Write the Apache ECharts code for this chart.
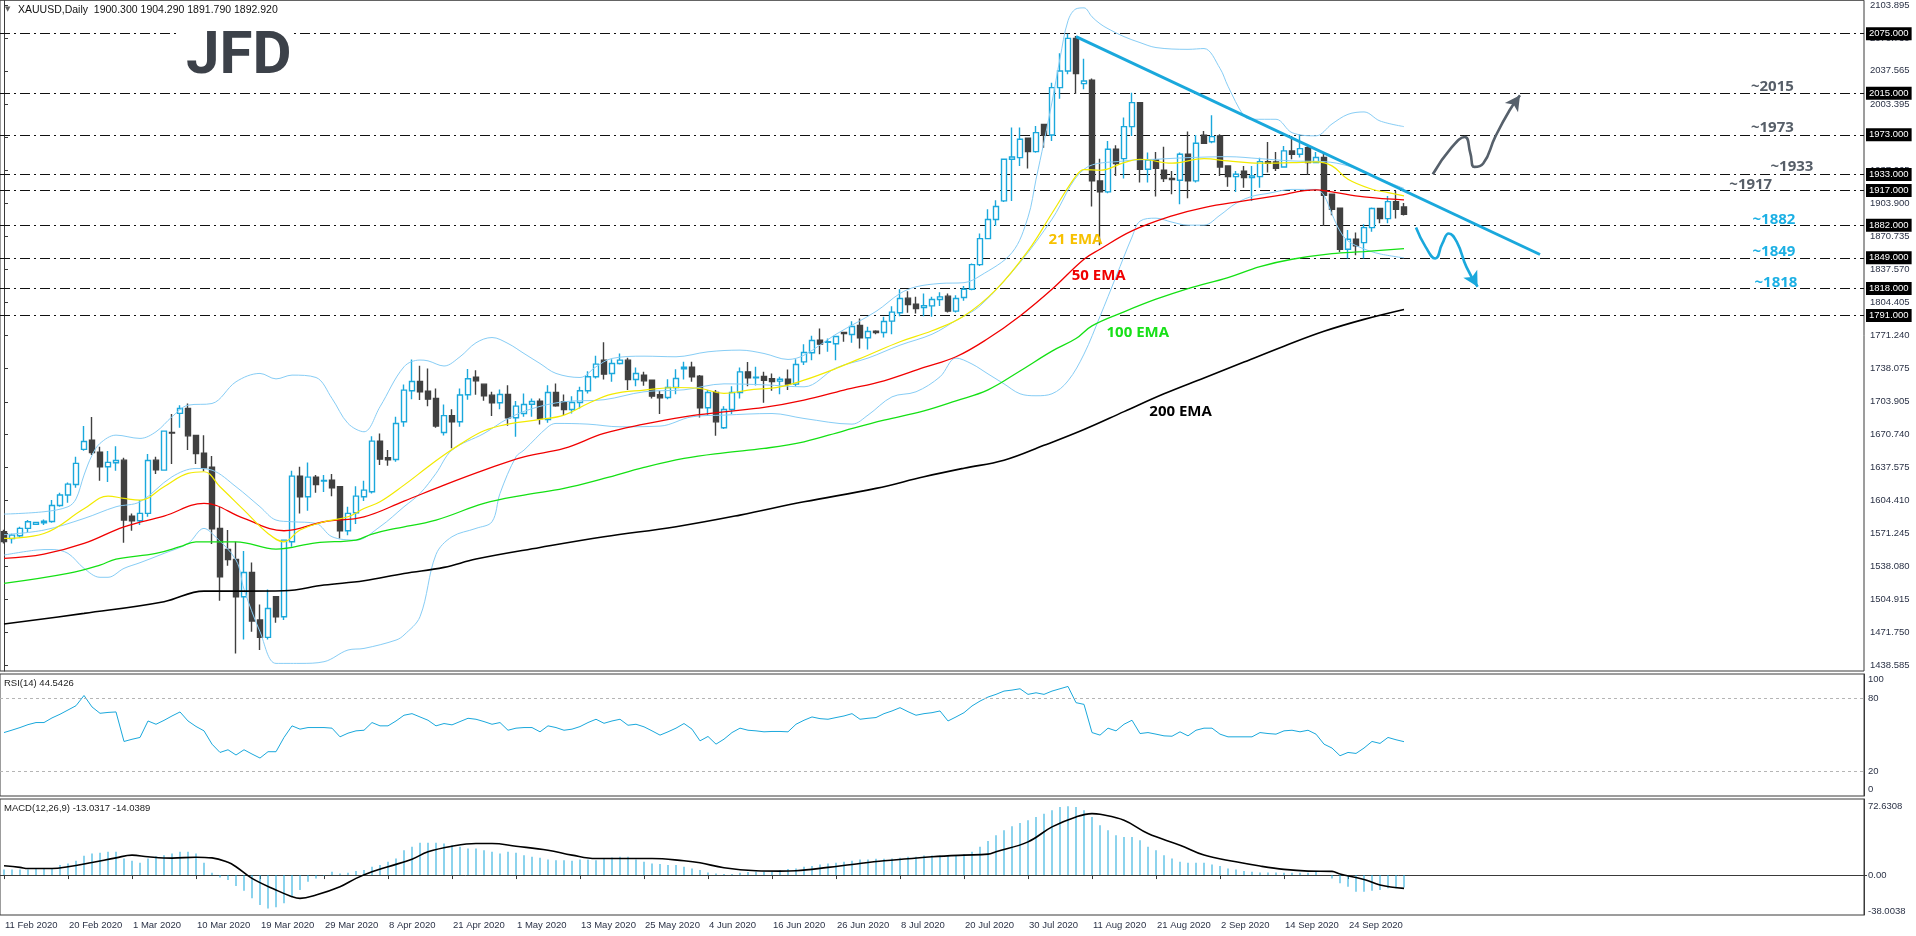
<!DOCTYPE html>
<html><head><meta charset="utf-8">
<script src="https://cdn.jsdelivr.net/npm/echarts@6/dist/echarts.min.js"></script>
<style>html,body{margin:0;padding:0;background:#fff;overflow:hidden}#c{width:1916px;height:936px}</style>
</head><body><div id="c"></div>
<script>
// ---------------- DATA ----------------
const DATE_TICKS=['11 Feb 2020','20 Feb 2020','1 Mar 2020','10 Mar 2020','19 Mar 2020','29 Mar 2020','8 Apr 2020','21 Apr 2020','1 May 2020','13 May 2020','25 May 2020','4 Jun 2020','16 Jun 2020','26 Jun 2020','8 Jul 2020','20 Jul 2020','30 Jul 2020','11 Aug 2020','21 Aug 2020','2 Sep 2020','14 Sep 2020','24 Sep 2020'];
const PRICE_TICKS=[2103.895,2070.730,2037.565,2003.395,1970.230,1937.065,1903.900,1870.735,1837.570,1804.405,1771.240,1738.075,1703.905,1670.740,1637.575,1604.410,1571.245,1538.080,1504.915,1471.750,1438.585];
const LEVELS=[2075,2015,1973,1933,1917,1882,1849,1818,1791];
const LAST_PRICE=1892.92;
const OPEN=[1573,1566,1568.9,1576.3,1580.3,1582,1583.3,1599.4,1609.9,1620.6,1655.9,1665.3,1653.2,1638.4,1642.4,1645.1,1588.7,1584,1591.4,1645.1,1635,1673,1692.2,1697.2,1670,1652.2,1638,1576.3,1555.1,1545,1507.4,1531.9,1483.9,1466.4,1507.4,1487.3,1562.8,1629,1608.2,1628,1623.9,1625,1618.2,1573.9,1592,1608.2,1613.2,1664.3,1647.5,1645.8,1683.8,1715,1724.4,1714.7,1707.3,1673,1690,1683.8,1711,1728.6,1721.7,1710.6,1702.9,1711.3,1687.8,1692.1,1701.5,1704.6,1686.1,1713.3,1703.9,1696.2,1703.2,1715,1729.1,1745.9,1732.5,1742.5,1745.9,1726.4,1730.8,1725.7,1711,1708.3,1718.3,1737.2,1738.8,1729.8,1697.9,1713.3,1677.7,1696.2,1713.3,1734.1,1728.1,1729.4,1727.1,1724.7,1726.7,1721.7,1744.2,1753.3,1766,1763.8,1762.4,1773.8,1771.8,1780.8,1768.4,1775.1,1773.8,1785.2,1793.6,1808.4,1802.3,1798.9,1800.6,1807,1810.4,1795.3,1809,1817.4,1842.2,1868.4,1887.6,1906.4,1948.4,1950,1969.5,1956.1,1983.6,1972.9,2020.6,2037.4,2070.3,2024.6,2028,1926.6,1915.5,1958.5,1949,1981.3,2005.5,1938.3,1947.7,1937.3,1929,1927.2,1953.4,1926.6,1972.6,1966.1,1971.9,1941.7,1930.9,1936.3,1930,1930.9,1946,1945.7,1940.6,1956.8,1953.4,1960.1,1945,1950.1,1913.1,1899,1857.7,1867.8,1864.4,1879.5,1898.7,1888.6,1905.7,1900.3];
const HIGH=[1575,1571,1578,1584.7,1583,1585.3,1604.8,1612.2,1622.6,1648.5,1679.4,1688.5,1658.6,1654.2,1659.2,1647.5,1591.4,1604.8,1651.2,1648.5,1674.5,1691.5,1700.5,1702.2,1670.5,1670.3,1649.2,1598,1574.6,1562.8,1553.4,1542,1499.7,1514.8,1508,1565.2,1634.4,1638.4,1642.8,1630,1630,1631,1618.9,1598,1618.9,1624.3,1669.3,1672,1655.2,1688.8,1721.4,1746.6,1740.2,1737.5,1717.3,1701.2,1696.4,1717.3,1737,1735.8,1721.9,1714,1716.3,1720.7,1704.6,1712.3,1707.3,1707.3,1720.7,1722.4,1711.3,1709.6,1719,1734.8,1750.3,1764,1746.9,1752.6,1748.2,1738.5,1734.1,1726,1715,1726.7,1736.8,1744.2,1744.2,1730.8,1715.7,1715.7,1699.5,1719.7,1738.5,1743.9,1739.2,1734.1,1732.5,1729.1,1736.5,1746.9,1762,1770.4,1777.8,1767.7,1770.4,1774.4,1785.2,1787.9,1779.5,1776.1,1789.6,1800.3,1817.4,1815.4,1809.7,1813,1809.7,1814.4,1813,1811.4,1820.7,1843.3,1873.5,1898,1907.1,1949,1980.3,1980.3,1969.5,1982,1983.6,2025.6,2055.2,2075,2072.6,2049.8,2029.7,1949,1966.9,1962.5,1990.4,2015.5,2005.5,1955.1,1955.8,1961.1,1936.6,1955.1,1976.3,1972.9,1976.9,1992.7,1973.6,1941.7,1936.6,1941.7,1941.7,1950,1965.8,1955.8,1961.8,1971.9,1973.6,1962.5,1955.8,1955.1,1913.1,1899,1877.2,1874.5,1882.9,1899.7,1898.7,1911.4,1916.5,1904.29];
const LOW=[1561,1561,1567,1572.2,1579.6,1579.6,1582,1598,1602.1,1617.2,1654.5,1650.2,1624.3,1623,1634.4,1561.8,1573.9,1579.6,1588,1631,1634.4,1641.1,1677.7,1655.2,1641.1,1634,1560.5,1503.4,1538.6,1450.3,1464.4,1472.1,1453.7,1464.4,1481.2,1483.9,1557.8,1591.4,1594.1,1612.2,1612.9,1608.8,1566.2,1569.5,1580.6,1603.8,1611.5,1640.1,1639.4,1643.4,1678.7,1706.6,1705.6,1699.5,1677.7,1670,1657,1678.7,1706,1711,1704.9,1689.5,1696.5,1679.7,1668.6,1688.8,1688.8,1681,1682.7,1699,1690.5,1692.1,1697.2,1712.3,1727.4,1726.4,1724.1,1741.5,1715.7,1719.7,1720,1707.3,1691.5,1706.6,1711.6,1726.4,1724.1,1688.1,1689.5,1669.6,1676.4,1691.5,1707.3,1719.7,1720.4,1702.9,1715,1711.6,1715.7,1719.7,1740.9,1745.9,1751.9,1754.3,1745.9,1764.4,1763.4,1757.6,1756.6,1772.1,1768.7,1772.1,1790.2,1793.6,1792.9,1790.2,1789.6,1800.6,1793.9,1793.9,1805.7,1816.4,1840.9,1867.8,1881.2,1905.4,1906.4,1941.7,1939,1955,1960.1,1966.9,2009.5,2034,2014.5,2018.9,1900.7,1861.7,1914.1,1931.6,1928.9,1971.9,1924.9,1924.9,1910.8,1925.5,1913.1,1903,1909.1,1924.9,1964.5,1964.5,1931.6,1920.8,1915.5,1919.8,1906.4,1919.8,1935,1936.6,1940,1948.4,1950.1,1932.6,1944.4,1881.2,1892,1855,1848.3,1851.7,1848.3,1875.2,1883.9,1883.9,1888.6,1891.79];
const CLOSE=[1563,1569.5,1576.3,1583,1582.3,1583.5,1599.4,1609.9,1620.9,1641.8,1663.9,1652.8,1638.4,1642.8,1644.8,1584.7,1584,1591.4,1644.8,1635.4,1674.3,1672.4,1697.2,1669.6,1651.8,1637.4,1575.9,1527.6,1545,1507.4,1531.9,1482.9,1466.4,1495.6,1487.3,1564.5,1629,1608.2,1628,1620.6,1624.6,1617.2,1573.9,1591.4,1608.8,1614.9,1664.3,1646.1,1645.5,1682,1715.7,1724.4,1714,1706.6,1679.4,1690,1683.8,1710.8,1727.2,1725,1710,1702.9,1711.3,1687.8,1699.5,1701.2,1704.2,1687.1,1713.3,1699.9,1696.2,1703.2,1715,1729.1,1741.9,1731.8,1742.5,1745.9,1726.4,1732.5,1725,1709.6,1707.9,1718.3,1727.4,1738.8,1729.1,1697.9,1713.3,1683.7,1696.2,1713.3,1734.1,1728.1,1728.6,1725.7,1724.4,1726.7,1721.7,1741.5,1753.6,1765.7,1762,1764.4,1769.7,1772.8,1779.8,1768.4,1774.8,1773.8,1784.9,1794.3,1808,1802,1797.9,1800.9,1807,1809.7,1795.3,1808,1817.4,1842.2,1868.4,1887.6,1900.7,1948.4,1950.7,1968.5,1956.1,1975.2,1972.9,2020.6,2037.4,2070.3,2034.7,2027.3,1926.6,1915.5,1958.5,1944,1981.3,2005.5,1938.3,1947.7,1939.3,1928.9,1927.9,1953.4,1926.6,1964.5,1964.5,1971.2,1940.6,1930.9,1933.3,1929.9,1931.6,1946,1944.4,1939.3,1956.8,1953.4,1959.1,1945,1950.1,1912.1,1898,1857.7,1867.8,1861.1,1879.5,1898.7,1888.6,1905.7,1898,1892.92];
// indicator readings: [bar index, value]
const EMA21=[[0,1566.2],[5,1571.2],[10,1596],[13,1608.9],[15,1606.5],[17,1604.8],[20,1618.3],[23,1631.7],[25,1633.4],[27,1618.3],[30,1594.7],[33,1571.2],[35,1562.8],[37,1574.6],[40,1583],[43,1588],[45,1596.4],[47,1603.1],[50,1619.9],[53,1638.4],[55,1650.2],[57,1661],[60,1674.7],[63,1681.4],[67,1686.1],[70,1690.5],[73,1702.2],[76,1711.6],[80,1715.7],[84,1718.3],[87,1717.3],[90,1712.3],[93,1715.7],[97,1719],[100,1725.7],[104,1737.5],[108,1750.9],[112,1764.4],[116,1775.5],[120,1790.5],[124,1817],[128,1856],[131,1894],[134,1931.6],[135,1938],[137,1937.3],[140,1945],[142,1948.4],[146,1944.4],[150,1949],[153,1946.7],[157,1944.4],[161,1945],[164,1945.7],[166,1941.7],[168,1928.2],[171,1918.2],[173,1914.8],[175,1911.4]];
const EMA50=[[0,1546],[5,1550.4],[10,1561.1],[15,1577.9],[20,1588.7],[25,1601.5],[30,1586.3],[35,1573.9],[40,1583],[45,1588],[50,1603.8],[55,1619.9],[60,1635],[65,1648.5],[70,1656.9],[75,1672],[80,1681.4],[85,1688.8],[90,1693.8],[95,1698.2],[100,1705.6],[105,1715.7],[110,1725.1],[115,1738.5],[119,1749.3],[123,1767.7],[127,1790.5],[131,1817.4],[135,1847.6],[137,1857.7],[141,1876.2],[146,1891.3],[150,1899.7],[155,1906.4],[159,1911.4],[164,1917.5],[166,1915.5],[170,1910.4],[175,1907.4]];
const EMA100=[[0,1520.8],[8,1530.9],[12,1539.3],[14,1545.4],[19,1551.1],[22,1557.8],[24,1562.8],[29,1562.8],[34,1555.4],[39,1561.8],[44,1564.5],[46,1570.6],[49,1576.3],[54,1584.7],[60,1601.4],[65,1609.9],[70,1616.6],[75,1626.6],[80,1637.7],[85,1646.8],[90,1652.5],[95,1656.9],[100,1663.6],[105,1674.7],[110,1685.4],[115,1694.8],[119,1704.9],[123,1716],[127,1735],[131,1755],[134,1767.7],[136,1780.5],[140,1794.6],[144,1807.3],[148,1818.1],[153,1829.2],[157,1840.2],[161,1847.6],[166,1853.3],[170,1855.3],[175,1858.4]];
const EMA200=[[0,1479.9],[10,1490.6],[20,1502.4],[25,1513.1],[30,1513.1],[35,1513.4],[40,1519.2],[45,1523.5],[50,1530.9],[55,1537],[59,1545.4],[67,1557.1],[75,1567.9],[84,1578],[92,1589.7],[100,1603.1],[109,1616.6],[115,1628.3],[120,1637],[125,1645],[130,1660],[135,1676],[140,1694],[145,1712],[150,1728],[155,1744],[160,1760],[165,1775],[170,1787],[175,1797]];
const BB_UP=[[0,1590.7],[5,1593.1],[8,1598.1],[9,1606],[10,1630],[11,1650],[12,1662],[14,1670.3],[17,1667],[19,1673.7],[21,1688.8],[23,1700.5],[26,1702.2],[29,1724.1],[32,1732.5],[34,1727],[36,1730.8],[39,1728.4],[41,1707.3],[43,1682.1],[45,1673.7],[47,1698.9],[50,1739.2],[52,1746],[53,1745.2],[55,1740],[57,1749.3],[59,1763.4],[61,1768.7],[63,1762.7],[65,1752.6],[67,1742.5],[69,1732.5],[72,1728.4],[74,1739.2],[76,1747.6],[80,1749.9],[84,1749.3],[88,1754.3],[92,1756],[95,1752.6],[98,1746.6],[100,1750.9],[104,1772],[109,1795],[112,1813.1],[114,1819.8],[117,1823.2],[120,1824],[122,1830.8],[126,1854.3],[128,1890],[129,1928],[130,1966],[131,2006],[132,2050],[133,2088],[134,2100],[135,2101],[136,2092],[137,2085],[138,2080],[140,2072],[142,2066],[144,2061],[148,2059.2],[150,2060],[152,2040],[153,2022],[155,1992],[156,1988.7],[159,1988.7],[161,1975.2],[164,1972],[166,1984],[168,1993.7],[170,1996.1],[172,1987],[175,1981.3]];
const BB_MID=[[0,1570],[5,1574.6],[10,1586.3],[14,1598.1],[17,1603.1],[21,1628.3],[24,1636.7],[26,1635],[29,1618.3],[32,1598.1],[34,1584.7],[36,1583],[39,1581.3],[41,1567.9],[44,1564.5],[47,1578],[50,1598.1],[52,1611.5],[54,1631.7],[56,1655.2],[60,1672],[63,1687],[66,1697],[70,1704],[75,1706],[80,1714],[85,1716],[90,1722],[95,1721],[100,1719],[104,1738],[108,1748],[112,1761],[116,1772],[119,1786],[122,1800.6],[127,1844.3],[131,1888],[135,1938.3],[140,1946.7],[144,1948.4],[148,1950],[153,1951],[157,1949],[161,1946.7],[165,1946],[168,1941.7],[171,1931.6],[175,1919]];
const BB_LOW=[[0,1549.4],[4,1554.4],[6,1555],[8,1551.1],[10,1536],[12,1527],[13,1527],[15,1536],[17,1541.7],[20,1551.1],[23,1561.1],[25,1576.3],[26,1571.2],[29,1544.4],[30,1515],[32,1472.1],[34,1440.2],[37,1440.2],[40,1441.9],[43,1453.7],[45,1455.3],[49,1463.7],[50,1468.8],[52,1487.3],[54,1550],[56,1567.9],[59,1576.3],[61,1583],[62,1611.5],[64,1648.5],[65,1655.2],[68,1678.7],[69,1682.1],[73,1681.4],[77,1678.7],[82,1679.4],[86,1688.8],[90,1690.5],[96,1692.1],[100,1687.1],[106,1681.4],[108,1690.5],[111,1708.9],[114,1714],[117,1729.1],[119,1748],[121,1742],[123,1732],[125,1722],[127,1712],[129,1710],[131,1712],[133,1725],[135,1752],[137,1790],[139,1830],[141,1870],[142,1886],[144,1889],[146,1885],[148,1882],[150,1882],[152,1892],[154,1904],[156,1911],[158,1914],[161,1918],[164,1918],[165,1912],[166,1893],[167,1876],[168,1866],[170,1858],[172,1853],[175,1849]];
const TREND=[[134,2072],[192,1852.4]];
const UP_PATH=[[178.6,1933.3],[181.0,1960.8],[182.6,1970.9],[183.3,1954.2],[183.8,1940.7],[184.9,1944.1],[186.4,1970.9],[188.2,1997.8],[189.5,2012.9]];
const DOWN_PATH=[[176.5,1879.6],[177.7,1860.1],[178.9,1848.4],[179.8,1863.5],[180.6,1873.6],[181.6,1865.1],[182.8,1839.9],[184.2,1819.8]];
const RSI=[52.0,54.0,56.1,58.5,60.2,60.2,64.0,67.0,70.5,74.0,82.4,73.0,67.8,68.5,68.9,44.7,46.5,48.0,61.5,58.8,62.0,65.6,68.9,61.5,57.0,53.4,42.5,35.7,37.9,33.6,37.9,34.4,31.1,36.3,36.3,48.0,57.5,54.8,56.1,56.1,56.1,55.6,48.5,51.5,53.4,53.9,60.2,57.5,57.5,61.5,66.2,67.5,64.8,62.1,57.5,59.4,58.3,61.0,63.7,62.9,61.0,58.8,60.2,53.9,55.6,56.1,56.1,52.6,57.5,56.1,53.9,54.8,56.9,60.2,62.9,59.6,61.5,62.9,58.0,58.8,56.7,53.4,49.9,52.6,55.6,59.4,54.8,45.2,48.8,42.5,46.6,52.0,55.6,53.9,53.4,52.6,52.9,52.9,52.6,58.8,62.1,64.8,63.4,62.9,64.3,65.6,67.5,62.9,63.7,64.3,67.5,69.7,72.4,69.1,66.2,67.5,68.3,69.7,61.5,64.8,68.3,73.8,77.8,81.1,83.3,86.0,86.8,87.9,83.3,84.6,83.3,86.0,87.9,89.8,76.5,75.1,52.0,49.9,55.6,53.4,58.8,62.1,51.2,52.0,50.7,49.3,49.0,52.6,49.3,53.9,55.6,55.6,50.7,48.5,48.5,48.5,48.5,52.0,51.2,50.7,53.4,53.9,52.6,53.9,50.7,42.5,39.3,33.0,35.7,34.9,39.3,44.7,43.1,48.0,46.1,44.54];
const MACD_HIST=[5.97,5.97,5.97,5.97,6.32,6.32,6.67,10.53,12.28,15.09,20.35,22.81,23.51,24.56,24.56,17.55,15.09,12.98,17.55,20.0,21.05,22.81,24.56,24.56,22.81,12.98,2.46,-2.46,-5.26,-11.58,-16.49,-24.56,-31.58,-35.44,-34.04,-29.83,-22.81,-15.79,-7.02,-3.51,-0.70,3.51,1.75,2.46,4.21,5.26,8.77,10.53,14.04,17.55,26.32,29.83,34.04,34.04,34.04,33.34,31.58,29.83,28.07,28.07,26.32,24.56,22.81,24.56,23.51,21.05,19.30,18.25,16.49,15.79,15.79,15.09,16.49,16.49,15.79,17.55,18.60,19.30,19.30,16.49,14.04,12.28,11.58,10.53,10.53,8.77,7.02,5.26,2.81,1.75,1.05,1.05,2.46,3.16,3.51,3.51,3.51,5.26,6.32,7.02,8.77,9.47,11.23,12.28,12.98,14.04,15.09,16.49,16.49,17.19,17.19,17.55,18.25,19.30,19.30,20.70,20.70,20.70,21.05,21.05,22.11,24.56,29.83,36.14,42.11,47.37,51.58,55.09,57.90,61.41,64.92,68.43,71.93,72.63,71.93,68.43,61.41,52.63,47.37,42.11,40.35,40.35,36.84,29.83,26.32,21.05,17.55,14.04,12.98,12.98,12.98,11.23,9.47,7.02,5.97,4.21,3.51,2.81,2.81,2.81,2.46,2.46,2.46,2.46,3.51,0,-3.51,-8.77,-12.28,-17.55,-17.55,-16.49,-15.79,-14.04,-14.04,-13.03];
const MACD_SIGNAL=[[0,9.8],[2,8.1],[3,7.0],[6,7.0],[8,8.8],[11,13.3],[14,18.2],[16,21.1],[18,19.3],[21,17.9],[24,18.9],[26,18.2],[28,13.5],[29,8.8],[31,-3.5],[34,-15.8],[36,-22.8],[37,-24.6],[39,-21.1],[42,-12.3],[44,-3.5],[46,3.5],[48,8.8],[51,16.8],[53,24.6],[56,30.5],[59,33.3],[61,33.3],[64,30.5],[68,26.3],[71,21.1],[74,17.5],[79,17.5],[81,17.5],[85,15.1],[87,13.0],[90,7.7],[94,4.6],[97,4.2],[99,4.6],[103,8.1],[106,11.2],[110,15.1],[113,17.2],[116,19.3],[120,21.1],[123,22.1],[124,24.6],[128,35.1],[131,50.9],[134,61.4],[136,64.9],[137,64.2],[140,57.9],[143,43.9],[147,31.6],[150,21.1],[154,14.0],[157,9.5],[160,6.0],[163,4.2],[166,3.9],[167,1.1],[170,-4.6],[172,-10.5],[175,-14.04]];
const LEVEL_NOTES=[['~2015',218.3,2022],['~1973',218.3,1980],['~1933',220.75,1940.7],['~1917',215.6,1923.2]];
const LEVEL_NOTES_BLUE=[['~1882',218.5,1887],['~1849',218.5,1854.7],['~1818',218.75,1823.8]];
const EMA_NOTES=[['21 EMA',130.5,1866.8,'#f7c100'],['50 EMA',133.4,1830.5,'#f00000'],['100 EMA',137.75,1773.4,'#17e017'],['200 EMA',143.1,1693.5,'#000000']];
const HEADER='XAUUSD,Daily  1900.300 1904.290 1891.790 1892.920';
const RSI_TITLE='RSI(14) 44.5426';
const MACD_TITLE='MACD(12,26,9) -13.0317 -14.0389';

// ---------------- CHART ----------------
const NCAT=233;
const CATS=Array.from({length:NCAT},(_,i)=>'b'+i);
const FONT='"Liberation Sans", Arial, sans-serif';
const AX='#2b3246';
const BLUE='#1aa8dc';
const chart=echarts.init(document.getElementById('c'),null,{renderer:'canvas'});
const tickShow=(i)=>i%8===0 && i/8<DATE_TICKS.length;
const candles=OPEN.map((o,i)=>[o,CLOSE[i],LOW[i],HIGH[i]]);
function lineS(data,color,width,smooth){
  return {type:'line',xAxisIndex:1,yAxisIndex:0,data:data,showSymbol:false,symbol:'none',smooth:smooth,clip:false,silent:true,
    lineStyle:{color:color,width:width},z:3};
}
const option={
  animation:false,
  backgroundColor:'#ffffff',
  textStyle:{fontFamily:FONT},
  grid:[
    {left:0,top:0,width:1864,height:671,show:true,borderColor:'#3a3a3a',borderWidth:1,backgroundColor:'transparent'},
    {left:0,top:674,width:1864,height:122,show:true,borderColor:'#3a3a3a',borderWidth:1},
    {left:0,top:799,width:1864,height:116,show:true,borderColor:'#3a3a3a',borderWidth:1}
  ],
  xAxis:[
    {type:'category',gridIndex:0,data:CATS,boundaryGap:true,axisLine:{show:false},axisTick:{show:false},axisLabel:{show:false},splitLine:{show:false}},
    {type:'value',gridIndex:0,min:-0.5,max:NCAT-0.5,show:false},
    {type:'category',gridIndex:1,data:CATS,boundaryGap:true,axisLine:{show:false},axisTick:{show:false},axisLabel:{show:false}},
    {type:'category',gridIndex:2,data:CATS,boundaryGap:true,
      axisLine:{show:true,lineStyle:{color:'#3a3a3a',width:1}},
      axisTick:{show:true,alignWithLabel:true,interval:(i)=>tickShow(i),length:4,lineStyle:{color:'#3a3a3a'}},
      axisLabel:{show:true,interval:(i)=>tickShow(i),formatter:(v,i)=>tickShow(i)?DATE_TICKS[i/8]:'',align:'left',margin:5,fontSize:9.5,color:AX,fontFamily:FONT,padding:[0,0,0,1]}}
  ],
  yAxis:[
    {type:'value',gridIndex:0,position:'right',min:1432.54,max:2108.63,scale:true,splitLine:{show:false},
      axisLine:{show:true,lineStyle:{color:'#3a3a3a'}},
      axisTick:{show:true,customValues:PRICE_TICKS,length:4,inside:false,lineStyle:{color:'#3a3a3a'}},
      axisLabel:{show:true,customValues:PRICE_TICKS,formatter:(v)=>v.toFixed(3),margin:6,fontSize:9.5,color:AX,fontFamily:FONT}},
    {type:'value',gridIndex:1,position:'right',min:0,max:100,splitLine:{show:false},
      axisLine:{show:true,lineStyle:{color:'#3a3a3a'}},axisTick:{show:false},
      axisLabel:{show:true,customValues:[5.5,20,80,95.5],formatter:(v)=>v>90?'100':(v<10?'0':String(v)),margin:4,fontSize:9.5,color:AX,fontFamily:FONT}},
    {type:'value',gridIndex:2,position:'right',min:-42.2,max:80.4,splitLine:{show:false},
      axisLine:{show:true,lineStyle:{color:'#3a3a3a'}},
      axisTick:{show:true,customValues:[0],length:3,lineStyle:{color:'#3a3a3a'}},
      axisLabel:{show:true,customValues:[72.6308,0,-38.0038],formatter:(v)=>v===0?'0.00':v.toFixed(4),margin:4,fontSize:9.5,color:AX,fontFamily:FONT}}
  ],
  series:[
    {type:'candlestick',name:'XAUUSD',xAxisIndex:0,yAxisIndex:0,data:candles,barWidth:5,z:2,
      itemStyle:{color:'#ffffff',color0:'#404040',borderColor:BLUE,borderColor0:'#404040',borderWidth:1.4},
      markLine:{silent:true,symbol:['none','none'],animation:false,z:1,
        lineStyle:{color:'#111',width:1,type:[10,4,2,4]},
        label:{show:true,position:'end',distance:2,formatter:(p)=>p.value.toFixed(3),backgroundColor:'#000',color:'#fff',fontSize:9.5,fontFamily:FONT,padding:[2,3,1,3]},
        data:LEVELS.map(v=>({yAxis:v})).concat([{yAxis:LAST_PRICE,lineStyle:{opacity:0},label:{backgroundColor:'#4a4a4a'}}])}},
    lineS(BB_UP,'#87cdf5',1,0.35),
    lineS(BB_MID,'#87cdf5',1,0.35),
    lineS(BB_LOW,'#87cdf5',1,0.35),
    lineS(EMA200,'#000000',1.6,0.4),
    lineS(EMA100,'#14e014',1.3,0.4),
    lineS(EMA50,'#f00000',1.3,0.4),
    lineS(EMA21,'#f2ea00',1.2,0.4),
    {type:'line',xAxisIndex:1,yAxisIndex:0,data:TREND,showSymbol:false,symbol:'none',clip:false,silent:true,lineStyle:{color:BLUE,width:3},z:4},
    {type:'line',id:'up',xAxisIndex:1,yAxisIndex:0,clip:false,silent:true,smooth:0.5,symbol:'none',showSymbol:true,
      data:UP_PATH.map((p,k)=>k===UP_PATH.length-1?{value:p,symbol:'arrow',symbolSize:[12,15],itemStyle:{color:'#56606b'}}:p),
      lineStyle:{color:'#56606b',width:2.6},z:4},
    {type:'line',id:'down',xAxisIndex:1,yAxisIndex:0,clip:false,silent:true,smooth:0.5,symbol:'none',showSymbol:true,
      data:DOWN_PATH.map((p,k)=>k===DOWN_PATH.length-1?{value:p,symbol:'arrow',symbolSize:[12,15],itemStyle:{color:BLUE}}:p),
      lineStyle:{color:BLUE,width:2.6},z:4},
    {type:'scatter',xAxisIndex:1,yAxisIndex:0,symbol:'circle',symbolSize:1,itemStyle:{color:'rgba(255,255,255,0)'},silent:true,z:6,clip:false,
      data:LEVEL_NOTES.map(a=>({name:a[0],value:[a[1],a[2]],label:{color:'#565e68'}}))
        .concat(LEVEL_NOTES_BLUE.map(a=>({name:a[0],value:[a[1],a[2]],label:{color:'#1cb0e4'}})))
        .concat(EMA_NOTES.map(a=>({name:a[0],value:[a[1],a[2]],label:{color:a[3]}}))),
      label:{show:true,position:'right',distance:0,formatter:'{b}',fontSize:15,fontWeight:'bold',opacity:1,fontFamily:'"Open Sans", "Noto Sans", sans-serif'}},
    {type:'line',xAxisIndex:2,yAxisIndex:1,data:RSI,showSymbol:false,symbol:'none',silent:true,lineStyle:{color:BLUE,width:1},
      markLine:{silent:true,symbol:['none','none'],label:{show:false},lineStyle:{color:'#b5b5b5',width:1,type:[3,3]},data:[{yAxis:20},{yAxis:80}]}},
    {type:'bar',xAxisIndex:3,yAxisIndex:2,data:MACD_HIST,barWidth:1,silent:true,itemStyle:{color:BLUE}},
    {type:'line',xAxisIndex:3,yAxisIndex:2,data:MACD_SIGNAL,showSymbol:false,symbol:'none',smooth:0.4,silent:true,lineStyle:{color:'#000',width:1.6},z:3}
  ],
  graphic:[
    {type:'rect',left:180,top:24,shape:{width:114,height:58},style:{fill:'#ffffff'},z:50,silent:true},
    {type:'text',left:186,top:28,style:{text:'JFD',font:'bold 60px "Roboto", "Liberation Sans", sans-serif',fill:'#3c4149'},z:51,silent:true},
    {type:'text',left:5,top:6,style:{text:'\u25BC',font:'7px "DejaVu Sans", sans-serif',fill:'#606060'},z:51,silent:true},
    {type:'text',left:18,top:5,style:{text:HEADER,font:'10.5px "Liberation Sans", Arial, sans-serif',fill:'#111'},z:51,silent:true},
    {type:'text',left:4,top:678,style:{text:RSI_TITLE,font:'9.5px "Liberation Sans", Arial, sans-serif',fill:'#222'},z:51,silent:true},
    {type:'text',left:4,top:803,style:{text:MACD_TITLE,font:'9.5px "Liberation Sans", Arial, sans-serif',fill:'#222'},z:51,silent:true}
  ]
};
chart.setOption(option);
function rot(path){
  const a=chart.convertToPixel({xAxisIndex:1,yAxisIndex:0},path[path.length-2]);
  const b=chart.convertToPixel({xAxisIndex:1,yAxisIndex:0},path[path.length-1]);
  const dx=b[0]-a[0], dy=b[1]-a[1];
  return -Math.atan2(dx,-dy)*180/Math.PI;
}
const ru=rot(UP_PATH), rd=rot(DOWN_PATH);
chart.setOption({series:[
  {id:'up',data:UP_PATH.map((p,k)=>k===UP_PATH.length-1?{value:p,symbol:'arrow',symbolSize:[12,15],symbolRotate:ru,itemStyle:{color:'#56606b'}}:p)},
  {id:'down',data:DOWN_PATH.map((p,k)=>k===DOWN_PATH.length-1?{value:p,symbol:'arrow',symbolSize:[12,15],symbolRotate:rd,itemStyle:{color:BLUE}}:p)}
]});
</script>
</body></html>
